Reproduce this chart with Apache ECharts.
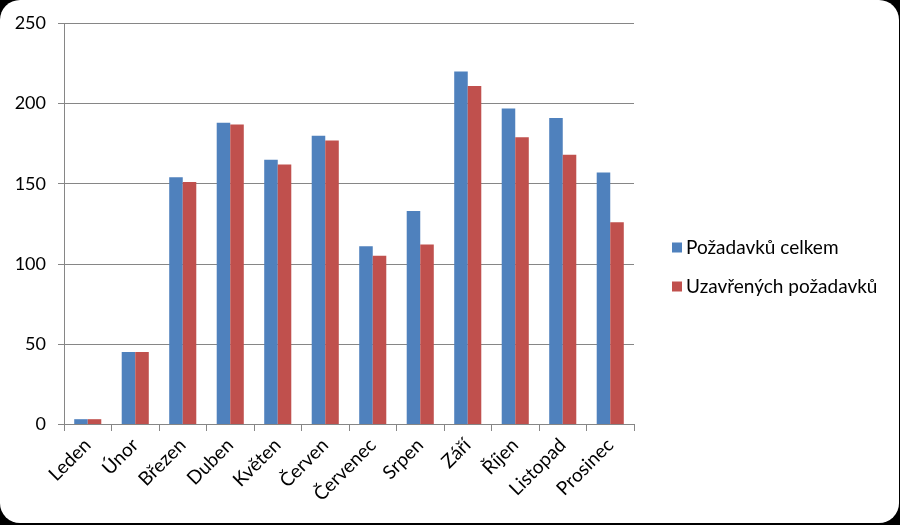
<!DOCTYPE html>
<html>
<head>
<meta charset="utf-8">
<script src="https://cdn.jsdelivr.net/npm/echarts@6/dist/echarts.min.js"></script>
<style>
html,body{margin:0;padding:0;background:#000;width:900px;height:525px;overflow:hidden;}
#c{position:absolute;left:0;top:0;width:899px;height:523px;background:#fff;border-radius:20px;}
</style>
</head>
<body>
<div id="c"></div>
<script>
const categories = ['Leden','Únor','Březen','Duben','Květen','Červen','Červenec','Srpen','Září','Říjen','Listopad','Prosinec'];
const seriesNames = ['Požadavků celkem','Uzavřených požadavků'];
const totalRequests = [3,45,154,188,165,180,111,133,220,197,191,157];
const closedRequests = [3,45,151,187,162,177,105,112,211,179,168,126];
const yMin = 0, yMax = 250, yStep = 50;

const chart = echarts.init(document.getElementById('c'), null, {renderer:'canvas'});
const font = 'Lato, "Open Sans", "DejaVu Sans", sans-serif';
const gray = '#868686';
chart.setOption({
  backgroundColor: 'transparent',
  animation: false,
  textStyle: {fontFamily: font},
  grid: {left: 64, right: 265, top: 23.5, bottom: 99, containLabel: false},
  legend: {
    orient: 'vertical', left: 667, top: 233,
    itemWidth: 10, itemHeight: 10, itemGap: 20,
    icon: 'rect',
    textStyle: {fontSize: 19, color: '#000', fontFamily: font, padding: [0,0,0,-1]},
    data: seriesNames
  },
  xAxis: {
    type: 'category', data: categories, boundaryGap: true,
    axisLine: {lineStyle: {color: gray, width: 1}},
    axisTick: {show: true, length: 7, alignWithLabel: false, lineStyle: {color: gray}},
    axisLabel: {rotate: 45, fontSize: 19, color: '#000', margin: 18, interval: 0, fontFamily: font}
  },
  yAxis: {
    type: 'value', min: yMin, max: yMax, interval: yStep,
    axisLine: {show: true, lineStyle: {color: gray, width: 1}},
    axisTick: {show: true, length: 6, lineStyle: {color: gray}},
    axisLabel: {fontSize: 18, color: '#000', margin: 18, fontFamily: font},
    splitLine: {show: true, lineStyle: {color: gray, width: 1}}
  },
  series: [
    {name: seriesNames[0], type: 'bar', data: totalRequests, barWidth: '28.5%', barGap: '0%', itemStyle: {color: '#4F81BD'}},
    {name: seriesNames[1], type: 'bar', data: closedRequests, barWidth: '28.5%', barGap: '0%', itemStyle: {color: '#C0504D'}}
  ]
});
</script>
</body>
</html>
